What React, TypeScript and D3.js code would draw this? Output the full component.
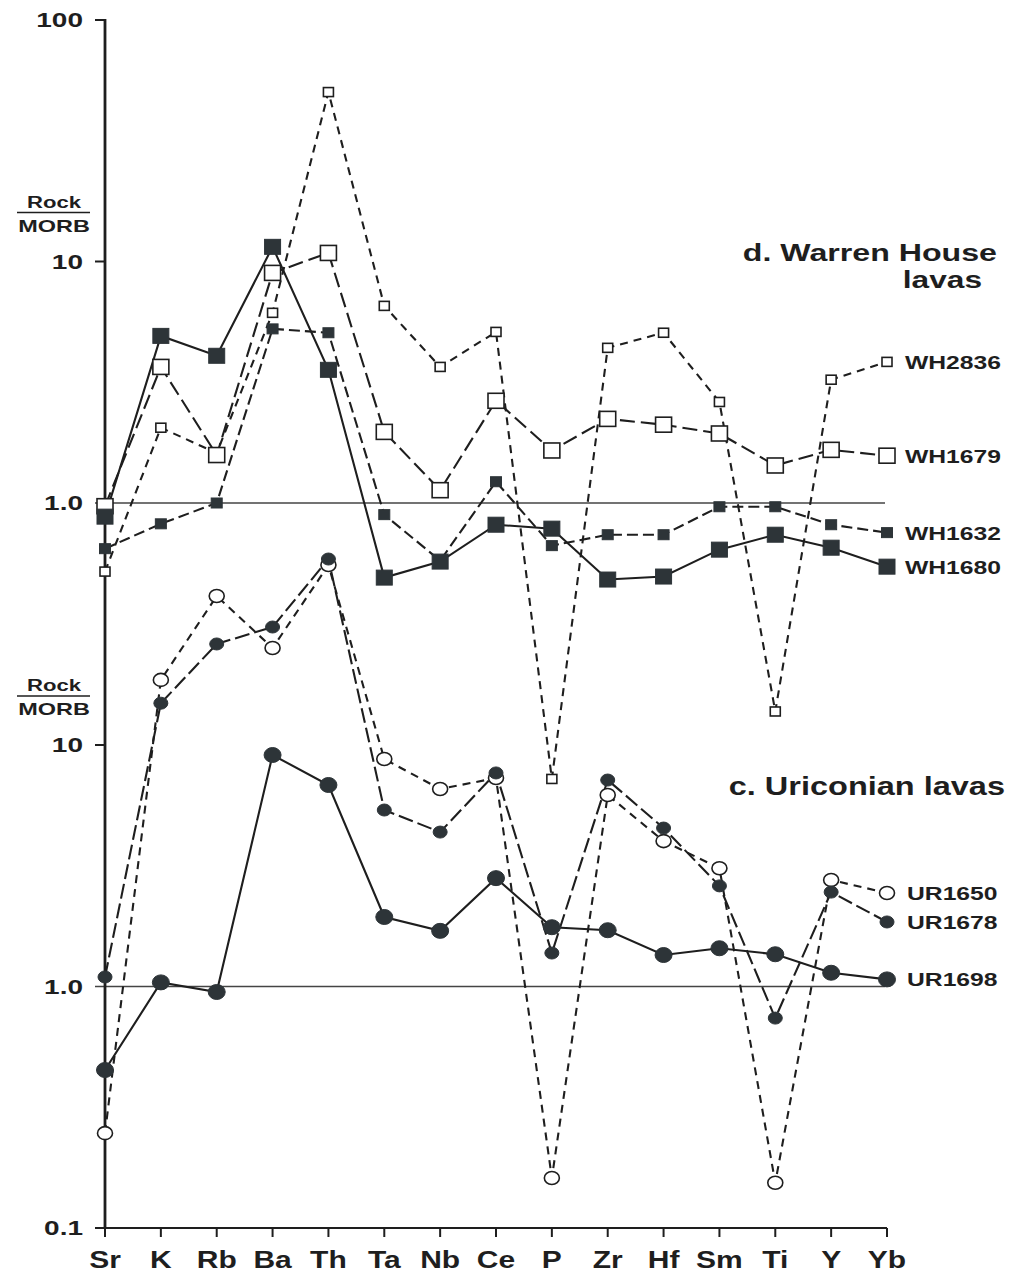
import React from "react";
import * as d3 from "d3";

// spider diagram, rock / MORB, two stacked panels
const elements = ["Sr", "K", "Rb", "Ba", "Th", "Ta", "Nb", "Ce", "P", "Zr", "Hf", "Sm", "Ti", "Y", "Yb"];

// d. Warren House lavas
const wh2836 = [0.52, 2.05, 1.61, 6.13, 50.3, 6.55, 3.66, 5.11, 0.072, 4.39, 5.07, 2.62, 0.137, 3.24, 3.84];
const wh1679 = [0.97, 3.66, 1.58, 8.97, 10.85, 1.97, 1.13, 2.65, 1.65, 2.23, 2.11, 1.94, 1.43, 1.66, 1.57];
const wh1632 = [0.647, 0.82, 1.0, 5.26, 5.07, 0.895, 0.577, 1.225, 0.666, 0.739, 0.739, 0.965, 0.965, 0.813, 0.754];
const wh1680 = [0.878, 4.92, 4.07, 11.5, 3.56, 0.491, 0.572, 0.813, 0.783, 0.482, 0.496, 0.641, 0.739, 0.653, 0.545];

// c. Uriconian lavas
const ur1650 = [0.247, 18.6, 41.4, 25.2, 55.6, 8.75, 6.57, 7.3, 0.161, 6.21, 4.0, 3.09, 0.154, 2.76, 2.44];
const ur1678 = [1.095, 14.9, 26.2, 30.8, 58.9, 5.38, 4.36, 7.66, 1.376, 7.16, 4.53, 2.61, 0.74, 2.46, 1.85];
const ur1698 = [0.451, 1.04, 0.949, 9.09, 6.83, 1.94, 1.7, 2.81, 1.76, 1.71, 1.35, 1.44, 1.36, 1.14, 1.07];

const topTicks = [100, 10, 1];
const bottomTicks = [10, 1, 0.1];

const FONT = "'Liberation Sans', Arial, sans-serif";
const INK = "#1e1e1e";
const FILL = "#2d3438";

const fmt = (v: number) => (v === 1 ? "1.0" : String(v));

// wide bold lettering like the printed figure
const Wide = ({ x, y, size, anchor = "start", sx = 1.3, children }: any) => (
  <text
    transform={`translate(${x},${y}) scale(${sx},1)`}
    textAnchor={anchor}
    fontSize={size}
    fontWeight="bold"
    fontFamily={FONT}
    fill={INK}
  >
    {children}
  </text>
);

export default function App() {
  const width = 1016;
  const height = 1277;

  const x = d3.scalePoint<string>().domain(elements).range([105, 887]);
  const yTop = d3.scaleLog().domain([1, 100]).range([503, 20]);
  const yBot = d3.scaleLog().domain([0.1, 10]).range([1228, 745]);

  const series = [
    { name: "WH2836", values: wh2836, y: yTop, shape: "square", open: true, size: 10, dash: "8,6" },
    { name: "WH1679", values: wh1679, y: yTop, shape: "square", open: true, size: 16, dash: "15,6" },
    { name: "WH1632", values: wh1632, y: yTop, shape: "square", open: false, size: 11, dash: "11,5" },
    { name: "WH1680", values: wh1680, y: yTop, shape: "square", open: false, size: 16, dash: null },
    { name: "UR1650", values: ur1650, y: yBot, shape: "circle", open: true, size: 7, dash: "8,6" },
    { name: "UR1678", values: ur1678, y: yBot, shape: "circle", open: false, size: 6.5, dash: "15,5" },
    { name: "UR1698", values: ur1698, y: yBot, shape: "circle", open: false, size: 8, dash: null },
  ];

  const lineFor = (s: any) =>
    d3
      .line<number>()
      .x((_, i) => x(elements[i]) as number)
      .y((d) => s.y(d))(s.values) as string;

  const x0 = x(elements[0]) as number;
  const x1 = x(elements[elements.length - 1]) as number;

  return (
    <svg width={width} height={height} style={{ position: "absolute", left: 0, top: 0, background: "#fff" }}>
      {/* reference lines at 1.0 */}
      <line x1={95} x2={885} y1={yTop(1)} y2={yTop(1)} stroke="#444" strokeWidth={1.7} />
      <line x1={95} x2={885} y1={yBot(1)} y2={yBot(1)} stroke="#444" strokeWidth={1.7} />

      {/* axes */}
      <line x1={x0} x2={x0} y1={yTop(100) - 1} y2={yBot(0.1)} stroke={INK} strokeWidth={2.8} />
      <line x1={x0} x2={x1} y1={yBot(0.1)} y2={yBot(0.1)} stroke={INK} strokeWidth={2.2} />
      {elements.map((e) => (
        <g key={e}>
          <line x1={x(e)} x2={x(e)} y1={yBot(0.1)} y2={yBot(0.1) + 9} stroke={INK} strokeWidth={2} />
          <Wide x={x(e)} y={1268} size={24} anchor="middle" sx={1.25}>
            {e}
          </Wide>
        </g>
      ))}
      {topTicks.map((t) => (
        <g key={"t" + t}>
          {t !== 1 && <line x1={95} x2={x0} y1={yTop(t)} y2={yTop(t)} stroke={INK} strokeWidth={2} />}
          <Wide x={83} y={yTop(t) + 7} size={20} anchor="end" sx={1.4}>
            {fmt(t)}
          </Wide>
        </g>
      ))}
      {bottomTicks.map((t) => (
        <g key={"b" + t}>
          {t !== 1 && <line x1={95} x2={x0} y1={yBot(t)} y2={yBot(t)} stroke={INK} strokeWidth={2} />}
          <Wide x={83} y={yBot(t) + 7} size={20} anchor="end" sx={1.4}>
            {fmt(t)}
          </Wide>
        </g>
      ))}

      {/* Rock / MORB labels */}
      {[yTop(10), yBot(10)].map((ty, i) => (
        <g key={"rm" + i}>
          <Wide x={54} y={ty - 54} size={17} anchor="middle" sx={1.3}>
            Rock
          </Wide>
          <line x1={17} x2={90} y1={ty - 49} y2={ty - 49} stroke={INK} strokeWidth={1.5} />
          <Wide x={54} y={ty - 30} size={17} anchor="middle" sx={1.38}>
            MORB
          </Wide>
        </g>
      ))}

      {/* panel titles */}
      <Wide x={997} y={261} size={24} anchor="end" sx={1.34}>
        d. Warren House
      </Wide>
      <Wide x={982} y={288} size={24} anchor="end" sx={1.32}>
        lavas
      </Wide>
      <Wide x={1005} y={795} size={25} anchor="end" sx={1.3}>
        c. Uriconian lavas
      </Wide>

      {/* series lines */}
      {series.map((s) => (
        <path
          key={"l" + s.name}
          d={lineFor(s)}
          fill="none"
          stroke={INK}
          strokeWidth={2.1}
          strokeDasharray={s.dash ?? undefined}
        />
      ))}

      {/* markers */}
      {series.map((s) => (
        <g key={"m" + s.name}>
          {s.values.map((v, i) => {
            const cx = x(elements[i]) as number;
            const cy = s.y(v);
            return s.shape === "square" ? (
              <rect
                key={i}
                x={cx - s.size / 2}
                y={cy - s.size / 2 + 0.5}
                width={s.size}
                height={s.size - 1}
                fill={s.open ? "#fff" : FILL}
                stroke={s.open ? INK : FILL}
                strokeWidth={s.open ? 1.6 : 1}
              />
            ) : (
              <ellipse
                key={i}
                cx={cx}
                cy={cy}
                rx={s.size + 0.5}
                ry={s.size - 0.5}
                fill={s.open ? "#fff" : FILL}
                stroke={s.open ? INK : FILL}
                strokeWidth={s.open ? 1.6 : 1}
              />
            );
          })}
          <Wide x={s.name.startsWith("UR") ? 907 : 905} y={s.y(s.values[s.values.length - 1]) + 7} size={19} anchor="start" sx={1.3}>
            {s.name}
          </Wide>
        </g>
      ))}
    </svg>
  );
}
